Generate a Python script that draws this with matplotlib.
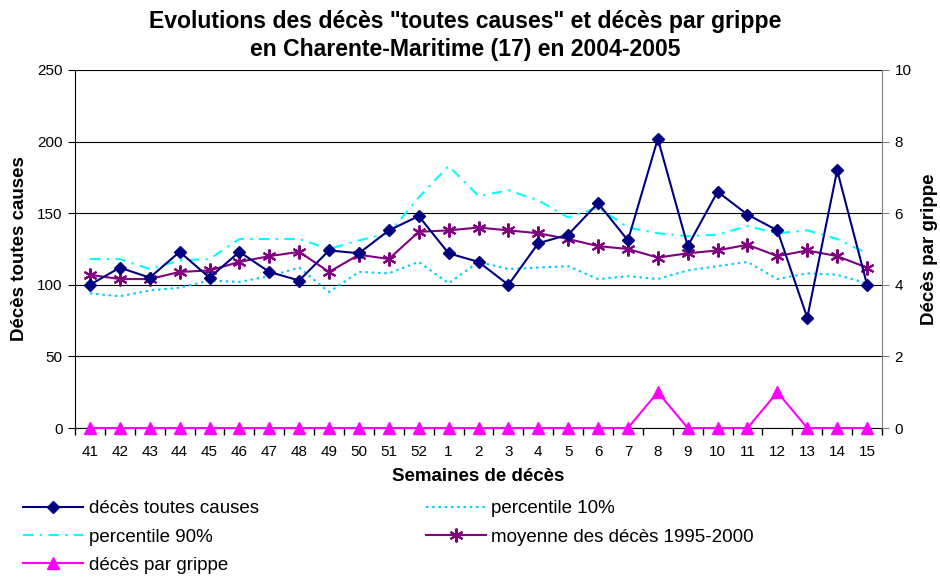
import numpy as np
import matplotlib
matplotlib.use('Agg')
import matplotlib.pyplot as plt
from matplotlib.ticker import FixedLocator

plt.rcParams['font.family'] = ['Liberation Sans', 'DejaVu Sans']

# Semaines 41 (2004) -> 15 (2005)
semaines = ['41', '42', '43', '44', '45', '46', '47', '48', '49', '50', '51', '52',
            '1', '2', '3', '4', '5', '6', '7', '8', '9', '10', '11', '12', '13', '14', '15']

deces_toutes_causes = [100, 112, 105, 123, 105, 123, 109, 103, 124, 122, 138, 148,
                       122, 116, 100, 129, 135, 157, 131, 202, 127, 165, 149, 138, 77, 180, 100]
percentile_10 = [94, 92, 96, 98, 103, 102, 106, 112, 95, 109, 108, 116,
                 101, 116, 111, 112, 113, 104, 106, 104, 110, 113, 116, 104, 108, 107, 101]
percentile_90 = [118, 118, 111, 117, 118, 132, 132, 132, 125, 131, 136, 161,
                 183, 162, 166, 159, 147, 154, 140, 136, 134, 135, 141, 136, 138, 132, 122]
moyenne_95_2000 = [107, 104, 104, 109, 110, 116, 120, 123, 109, 121, 118, 137,
                   138, 140, 138, 136, 132, 127, 125, 119, 122, 124, 128, 120, 124, 120, 112]
deces_grippe = [0, 0, 0, 0, 0, 0, 0, 0, 0, 0, 0, 0,
                0, 0, 0, 0, 0, 0, 0, 1, 0, 0, 0, 1, 0, 0, 0]

x = np.arange(len(semaines))

fig = plt.figure(figsize=(9.4, 5.79), dpi=100)
ax = fig.add_axes([75/940, 1-428/579, 807/940, 358/579])
ax2 = ax.twinx()

# series on the left axis
l_p10, = ax.plot(x, percentile_10, ls=(0, (1.2, 1.8)), color='#00CCFF', lw=1.5, zorder=3)
l_p90, = ax.plot(x, percentile_90, ls=(0, (5, 3, 1.2, 3)), color='#00FFFF', lw=1.5, zorder=3)
l_moy, = ax.plot(x, moyenne_95_2000, '-', color='#800080', lw=1.5, marker=(6, 2, 0),
                 ms=10, mew=1.5, zorder=4)
l_dec, = ax.plot(x, deces_toutes_causes, '-', color='#000080', lw=1.5, marker='D',
                 ms=6.5, zorder=5)

# grippe on the right axis
l_gri, = ax2.plot(x, deces_grippe, '-', color='#FF00FF', lw=1.5, marker='^', ms=8,
                  clip_on=False, zorder=5)

ax.set_xlim(-0.5, len(semaines) - 0.5)
ax.set_ylim(0, 250)
ax2.set_ylim(0, 10)
ax.set_yticks(np.arange(0, 251, 50))
ax2.set_yticks(np.arange(0, 11, 2))

ax.set_xticks(x)
ax.set_xticklabels(semaines)
ax.xaxis.set_minor_locator(FixedLocator(np.arange(-0.5, len(semaines), 1)))
ax.tick_params(axis='x', which='major', length=0, pad=12, labelsize=11)
ax.tick_params(axis='x', which='minor', length=5, direction='out', width=1)
ax.tick_params(axis='y', length=5, direction='out', pad=4, labelsize=11)
ax2.tick_params(axis='y', length=5, direction='out', pad=4, labelsize=11, color='#808080')

ax.yaxis.grid(True, color='black', lw=0.8)
ax.set_axisbelow(True)
for a in (ax, ax2):
    a.spines['top'].set_visible(False)
ax.spines['right'].set_visible(False)
ax2.spines['left'].set_visible(False)
ax2.spines['bottom'].set_visible(False)
ax2.spines['right'].set_color('#808080')

ax.set_xlabel('Semaines de décès', fontsize=13.5, fontweight='bold', labelpad=7)
ax.set_ylabel('Décès toutes causes', fontsize=13.5, fontweight='bold')
ax.yaxis.set_label_coords(-0.058, 0.5)
ax2.set_ylabel('Décès par grippe', fontsize=13.5, fontweight='bold')
ax2.yaxis.set_label_coords(1.048, 0.5)

fig.text(0.495, 0.982, 'Evolutions des décès "toutes causes" et décès par grippe\n'
         'en Charente-Maritime (17) en 2004-2005',
         ha='center', va='top', fontsize=16.6, fontweight='bold', linespacing=1.25)

handles = [l_dec, l_p90, l_gri, l_p10, l_moy]
labels = ['décès toutes causes', 'percentile 90%', 'décès par grippe',
          'percentile 10%', 'moyenne des décès 1995-2000']
fig.legend(handles, labels, loc='upper left', bbox_to_anchor=(23/940, 1-500/579),
           ncol=2, frameon=False, fontsize=13.5, handlelength=3.2, handletextpad=0.3,
           columnspacing=8.9, labelspacing=0.6, borderpad=0, borderaxespad=0)

fig.savefig('out.png', dpi=100)
